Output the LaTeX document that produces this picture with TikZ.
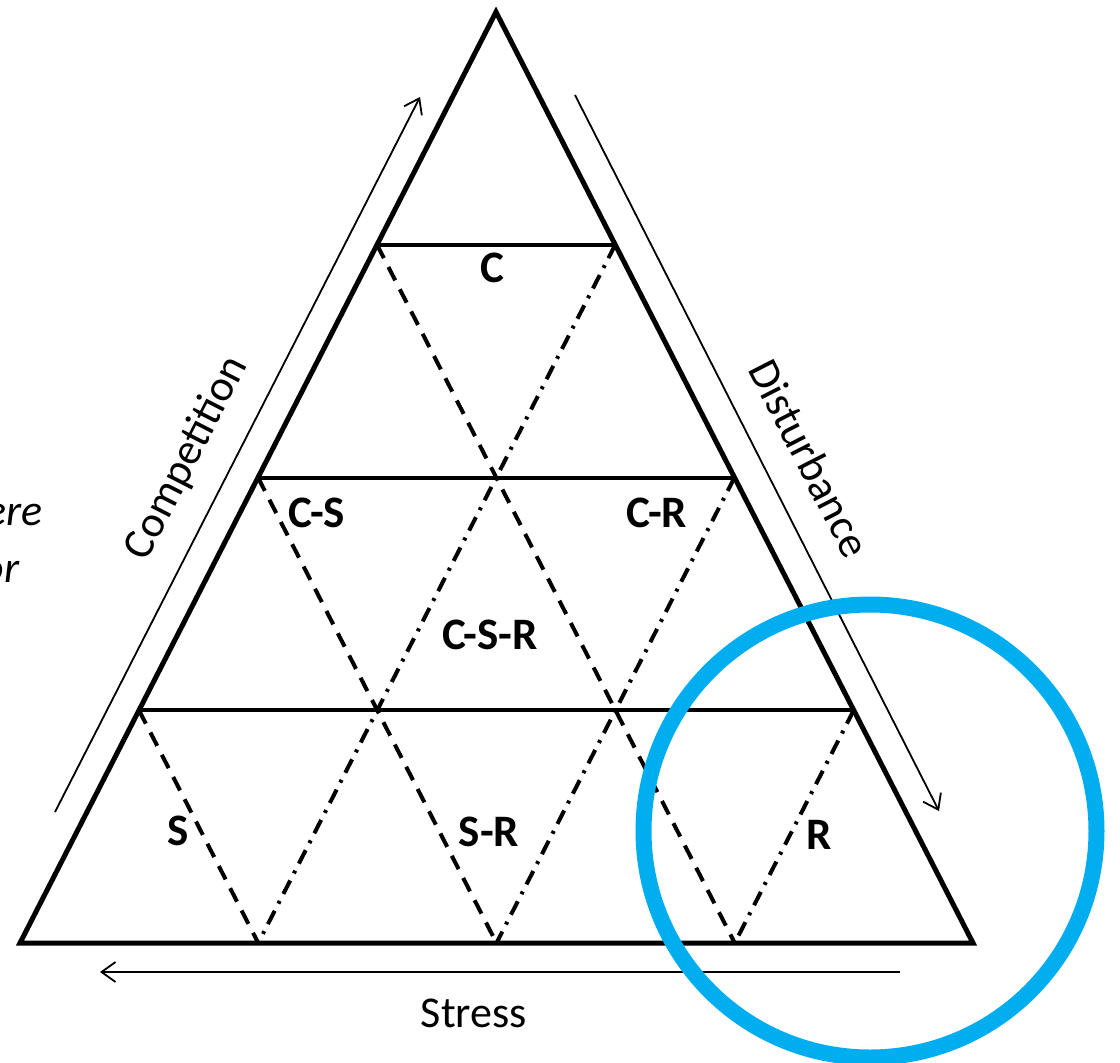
\documentclass[tikz,border=0pt]{standalone}
\usepackage{fontspec}
\setmainfont{Carlito}
\usetikzlibrary{arrows.meta,calc}
\definecolor{ringblue}{HTML}{00AEEF}

\begin{document}
\begin{tikzpicture}[x=0.5pt,y=-0.5pt,
  edge/.style={line width=2.5pt,line join=miter},
  band/.style={line width=2pt},
  dashline/.style={line width=2pt,dash pattern=on 7.5pt off 5pt},
  dotline/.style={line width=2pt,dash pattern=on 7.5pt off 4pt on 1.5pt off 4pt},
  axis/.style={line width=0.9pt,-{Straight Barb[length=7pt,width=10pt]}},
  zone/.style={font=\fontsize{22.5}{26}\selectfont\bfseries,inner sep=0pt},
  axislabel/.style={font=\fontsize{22}{26}\selectfont,inner sep=0pt},
  frag/.style={font=\fontsize{22}{26}\selectfont\itshape,inner sep=0pt,anchor=base east},
  ring/.style={draw=ringblue,line width=8pt}]
  \useasboundingbox (0,0) rectangle (1120,1062);
  \clip (0,0) rectangle (1120,1062);

  % triangle corners and grid points
  \coordinate (apex) at (496,12);
  \coordinate (bl) at (20,943);
  \coordinate (br) at (973,943);
  \foreach \k in {1,2,3}{
    \coordinate (l\k) at ($(apex)!\k/4!(bl)$);
    \coordinate (r\k) at ($(apex)!\k/4!(br)$);
    \coordinate (b\k) at ($(bl)!\k/4!(br)$);
  }

  \draw[edge] (apex) -- (bl) -- (br) -- cycle;
  \foreach \k in {1,2,3}
    \draw[band] (l\k) -- (r\k);

  % diagonal grid
  \draw[dashline] (l1) -- (b3);
  \draw[dashline] (l2) -- (b2);
  \draw[dashline] (l3) -- (b1);
  \draw[dotline] (r1) -- (b1);
  \draw[dotline] (r2) -- (b2);
  \draw[dotline] (r3) -- (b3);

  % strategy zones
  \node[zone] (c) at (492,268) {C};
  \node[zone] (cs) at (317,513) {C-S};
  \node[zone] (cr) at (657,513) {C-R};
  \node[zone] (csr) at (490,635) {C-S-R};
  \node[zone] (s) at (178,831) {S};
  \node[zone] (sr) at (489,832) {S-R};
  \node[zone] (r) at (819,835) {R};

  % gradients
  \coordinate (comp0) at (55,812);
  \coordinate (comp1) at (420,97);
  \coordinate (dist0) at (575,95);
  \coordinate (dist1) at (939,811);
  \coordinate (str0) at (900,972);
  \coordinate (str1) at (100,972);
  \draw[axis] (comp0) -- (comp1);
  \draw[axis] (dist0) -- (dist1);
  \draw[axis] (str0) -- (str1);
  \node[axislabel,rotate=62.9] (comp) at (187,458) {Competition};
  \node[axislabel,rotate=-62.9] (dist) at (810,458) {Disturbance};
  \node[axislabel] (stress) at (474,1013) {Stress};

  % cut-off text at the left margin
  \node[frag] (frag1) at (43,525) {ere};
  \node[frag] (frag2) at (20,582) {or};

  \draw[ring] (870,831) circle[radius=113.25pt];
\end{tikzpicture}
\end{document}
